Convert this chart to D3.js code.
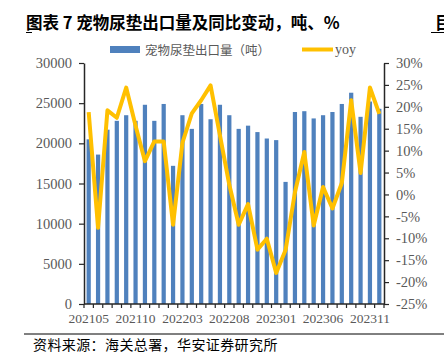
<!DOCTYPE html>
<html>
<head>
<meta charset="utf-8">
<script src="https://cdn.jsdelivr.net/npm/d3@7/dist/d3.min.js"></script>
<style>
  body { margin: 0; background: #fff; }
  svg { display: block; }
</style>
</head>
<body>
<div id="chart"></div>
<script>
// months on the category axis, one per bar
var months = ["202105","202106","202107","202108","202109","202110","202111","202112",
	      "202201","202202","202203","202204","202205","202206","202207","202208",
	      "202209","202210","202211","202212","202301","202302","202303","202304",
	      "202305","202306","202307","202308","202309","202310","202311","202312"];

// 宠物尿垫出口量（吨）
var volume = [20500, 18600, 21700, 22800, 23500, 22800, 24800, 22800,
	      24900, 17200, 23500, 21800, 24900, 23000, 24800, 23500,
	      21800, 22200, 21400, 20600, 20400, 15200, 23900, 24000,
	      23100, 23500, 23900, 24900, 26300, 23300, 25200, 24300];

// yoy, %
var yoy = [18.8, -7.6, 19.2, 17.5, 24.4, 15.7, 7.6, 12.1,
	   12.1, -6.9, 11.8, 18.5, 21.5, 24.9, 13.5, 2.2,
	   -6.9, -2.2, -12.6, -10.1, -17.9, -12.7, 0.5, 9.7,
	   -7.1, 1.7, -3.2, 2.6, 21.5, 4.9, 24.4, 18.4];

var leftTicks = [0, 5000, 10000, 15000, 20000, 25000, 30000];
var rightTicks = [-25, -20, -15, -10, -5, 0, 5, 10, 15, 20, 25, 30];
var labelMonths = ["202105","202110","202203","202208","202301","202306","202311"];

var W = 444, H = 361;
var plot = {left: 84, right: 384, top: 63, bottom: 304};
var barColor = "#4f81bd", lineColor = "#ffc000", axisColor = "#262626", textColor = "#595959";
var numFont = "'Liberation Serif', 'Times New Roman', serif";
var cjkFont = "'Noto Sans CJK SC', sans-serif";

var svg = d3.select("#chart").append("svg")
    .attr("width", W)
    .attr("height", H);

var x = d3.scaleBand()
    .domain(months)
    .range([plot.left, plot.right])
    .paddingInner(0.55)
    .paddingOuter(0.275);

var y = d3.scaleLinear().domain([0, 30000]).range([plot.bottom, plot.top]);
var y2 = d3.scaleLinear().domain([-25, 30]).range([plot.bottom, plot.top]);

// bars
svg.append("g").selectAll("rect")
    .data(volume)
    .join("rect")
    .attr("x", function(d, i){ return x(months[i]); })
    .attr("y", function(d){ return y(d); })
    .attr("width", x.bandwidth())
    .attr("height", function(d){ return y(0) - y(d); })
    .attr("fill", barColor);

// yoy line
var line = d3.line()
    .x(function(d, i){ return x(months[i]) + x.bandwidth() / 2; })
    .y(function(d){ return y2(d); });

svg.append("path")
    .datum(yoy)
    .attr("d", line)
    .attr("fill", "none")
    .attr("stroke", lineColor)
    .attr("stroke-width", 4)
    .attr("stroke-linejoin", "round");

// left axis
var yAxis = svg.append("g")
    .attr("transform", "translate(" + plot.left + ",0)")
    .call(d3.axisLeft(y).tickValues(leftTicks).tickSize(5).tickSizeOuter(0).tickPadding(7)
	  .tickFormat(d3.format("d")));

// right axis
var y2Axis = svg.append("g")
    .attr("transform", "translate(" + plot.right + ",0)")
    .call(d3.axisRight(y2).tickValues(rightTicks).tickSize(5).tickSizeOuter(0).tickPadding(7)
	  .tickFormat(function(d){ return d + "%"; }));

[yAxis, y2Axis].forEach(function(g){
    g.select(".domain").attr("stroke", axisColor).attr("stroke-width", 1.5);
    g.selectAll(".tick line").attr("stroke", axisColor).attr("stroke-width", 1.2);
    g.selectAll(".tick text")
	.attr("fill", textColor)
	.style("font-family", numFont)
	.style("font-size", "14.5px");
});

// category axis: ticks sit between the categories
var xg = svg.append("g");
xg.append("line")
    .attr("x1", plot.left).attr("x2", plot.right)
    .attr("y1", plot.bottom).attr("y2", plot.bottom)
    .attr("stroke", axisColor).attr("stroke-width", 1.5);

xg.selectAll("line.tk")
    .data(d3.range(months.length + 1))
    .join("line")
    .attr("class", "tk")
    .attr("x1", function(i){ return plot.left + i * x.step(); })
    .attr("x2", function(i){ return plot.left + i * x.step(); })
    .attr("y1", plot.bottom)
    .attr("y2", plot.bottom + 4)
    .attr("stroke", axisColor).attr("stroke-width", 1.2);

xg.selectAll("text")
    .data(labelMonths)
    .join("text")
    .attr("x", function(d){ return x(d) + x.bandwidth() / 2; })
    .attr("y", 323)
    .attr("text-anchor", "middle")
    .attr("fill", textColor)
    .style("font-family", numFont)
    .style("font-size", "13.5px")
    .text(function(d){ return d; });

// legend
var lg = svg.append("g");
lg.append("rect")
    .attr("x", 110).attr("y", 46)
    .attr("width", 30).attr("height", 7)
    .attr("fill", barColor);
lg.append("text")
    .attr("x", 145).attr("y", 54.5)
    .attr("fill", textColor)
    .style("font-family", cjkFont)
    .style("font-size", "12.5px")
    .text("宠物尿垫出口量（吨）");
lg.append("line")
    .attr("x1", 302).attr("x2", 333)
    .attr("y1", 49.5).attr("y2", 49.5)
    .attr("stroke", lineColor).attr("stroke-width", 4);
lg.append("text")
    .attr("x", 335).attr("y", 54)
    .attr("fill", textColor)
    .style("font-family", numFont)
    .style("font-size", "14px")
    .text("yoy");

// title and source
svg.append("text")
    .attr("x", 26).attr("y", 29)
    .attr("fill", "#000")
    .style("font-family", cjkFont)
    .style("font-size", "16.5px")
    .style("font-weight", "bold")
    .text("图表 7 宠物尿垫出口量及同比变动，吨、%");
svg.append("line")
    .attr("x1", 26).attr("x2", 32).attr("y1", 32.5).attr("y2", 32.5)
    .attr("stroke", "#000").attr("stroke-width", 1);
// next figure's title, cut by the right edge as in the source page
svg.append("text")
    .attr("x", 435).attr("y", 29)
    .attr("fill", "#000")
    .style("font-family", cjkFont)
    .style("font-size", "16.5px")
    .style("font-weight", "bold")
    .text("目");
svg.append("line")
    .attr("x1", 431).attr("x2", 444).attr("y1", 32.5).attr("y2", 32.5)
    .attr("stroke", "#000").attr("stroke-width", 1);

svg.append("line")
    .attr("x1", 24).attr("x2", 444).attr("y1", 334).attr("y2", 334)
    .attr("stroke", "#000").attr("stroke-width", 1);
svg.append("text")
    .attr("x", 33).attr("y", 350)
    .attr("fill", "#000")
    .style("font-family", cjkFont)
    .style("font-size", "14px")
    .style("letter-spacing", "0.4px")
    .text("资料来源：海关总署，华安证券研究所");
</script>
</body>
</html>
